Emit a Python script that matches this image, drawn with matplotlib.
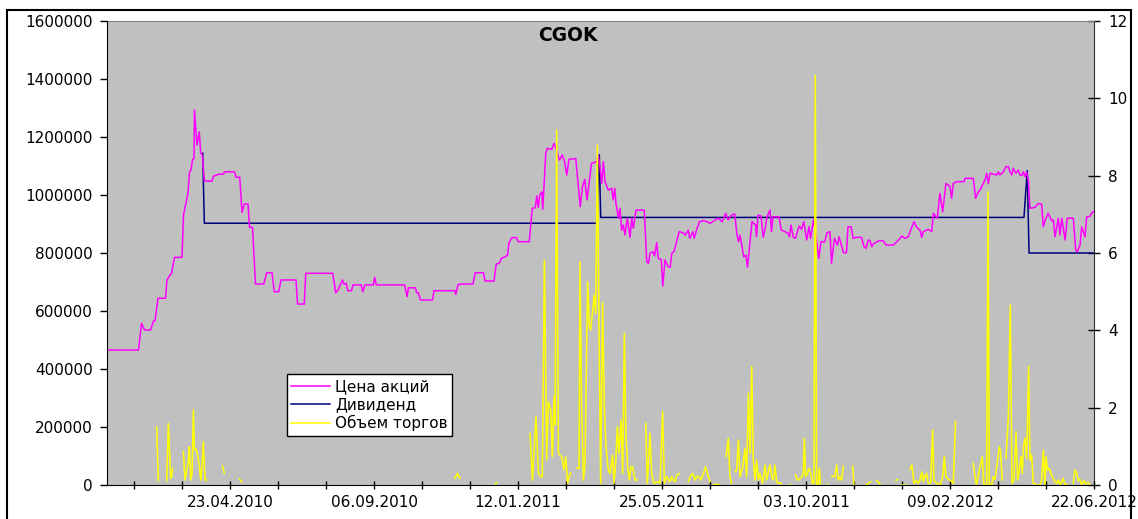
import numpy as np
import matplotlib
matplotlib.use("Agg")
import matplotlib.pyplot as plt
from matplotlib.patches import Rectangle

nan = np.nan

# trading-day index (0..658) -> share price, RUB
price_x = [0, 21, 23, 25, 29, 31, 32, 34, 39, 40, 42, 43, 45, 50, 51, 54, 55, 56, 57, 58,
           58.3, 60, 61.5, 62.5, 63.5, 65, 70, 71, 73, 75, 77.5, 78.5, 85, 86, 88.5, 90, 91.5, 94, 95, 97,
           99, 104.5, 106.5, 110, 111.5, 114.5, 116, 126, 127, 131.5, 132.5, 150.5, 152.5, 154, 157, 158,
           159.5, 160.5, 163, 164, 169.5, 170.5, 172, 177.5, 178.5, 179.5, 198.5, 200, 201, 205.5, 206.5,
           207.5, 209, 217, 218, 232, 232.5, 234, 235.5, 244, 245.5, 251, 252, 258, 259.5, 261.5, 263,
           265.5, 267, 268, 270, 273, 274, 281.5, 282.5, 283.5, 285.5, 286.5, 287.5, 288.5, 290, 290.5,
           292.5, 293.5, 296.5, 298, 299, 301.5, 302, 303.5, 305, 306.5, 308, 312.5, 313.5, 315.5, 317,
           318.5, 320, 321.5, 323, 326.5, 327.5, 328.7, 329.8, 330.9, 332, 334.2, 336.5, 337.5, 338.5,
           339.3, 341, 342, 343.1, 344.2, 345.3, 346.9, 348.7, 349.8, 350.9, 352.7, 358.2, 359.8, 361,
           362, 364, 365, 366.5, 367.5, 369.5, 370.5, 372, 374, 375.5, 376.5, 378, 380, 381.5, 384, 385.5,
           387.5, 388.5, 390.5, 391.5, 393, 395, 397.5, 400, 402, 405.5, 407.5, 410, 412.5, 414, 416.5,
           418.5, 420, 421, 422, 424.5, 426, 427, 430, 432.5, 433, 434, 436, 437.5, 439, 440, 442, 443,
           444, 448, 449.5, 452, 454, 455, 456, 457.5, 459, 460, 461.5, 463, 464.5, 466.5, 468, 469, 471,
           473, 474.5, 476, 478.5, 480, 482, 483, 485, 487, 488, 491, 493, 494, 496, 497.5, 499.5, 503,
           504.7, 506, 507.5, 508.7, 509.8, 511.3, 514.9, 517.5, 519.3, 524.2, 526.5, 528.2, 529.8, 532,
           534.2, 535.8, 538, 539.8, 542, 543.1, 544.2, 547.5, 549.8, 550.9, 552.7, 553.5, 555.3, 557.1,
           559.3, 562, 563.1, 564.2, 566.5, 571.5, 572, 577.5, 579.1, 580.9, 582, 585.3, 586.5, 587.5,
           588.7, 593.1, 594.2, 595.3, 597.5, 599.3, 600.9, 602, 603.1, 604.2, 606, 607.5, 608.7, 609.8,
           610.9, 612, 613.1, 614.2, 615.3, 618.7, 620.9, 623.1, 624.2, 625.3, 627.5, 629.8, 630.9, 632,
           634.2, 635.3, 636.5, 638.7, 640.2, 644.2, 645.8, 646.9, 648.7, 649.8, 652, 653.1, 654.9, 657.1, 658]
price_y = [465500, 465500, 557500, 534500, 534500, 565500, 565500, 644000, 644000, 707000, 724000, 730000,
           785000, 785000, 931000, 1006000, 1080000, 1086000, 1121000, 1126000,
           1293000, 1172000, 1218000, 1144000, 1138000, 1048000, 1048000, 1065000, 1069000, 1072000, 1072000,
           1080000, 1080000, 1061000, 1061000, 940000, 969000, 969000, 888500, 888500,
           693000, 693000, 732000, 732000, 666500, 666500, 707000, 707000, 624000, 624000, 730000, 730000,
           663000, 672000, 707000, 693000,
           695000, 670000, 670000, 690000, 690000, 666500, 690000, 690000, 716000, 690000, 690000, 649000,
           680000, 680000, 663000,
           663000, 638000, 638000, 670000, 670000, 657000, 690000, 693000, 693000, 732000, 732000, 703500,
           703500, 762000, 764500, 782000,
           787000, 793000, 835500, 853000, 853000, 839000, 839000, 896500, 954000, 956000, 996500, 957500,
           1000000, 1011000, 951000,
           1144000, 1161000, 1157500, 1178000, 1166500, 1121000, 1123000, 1138000, 1117000, 1069000, 1123000,
           1126000, 1069000, 960000, 1029000,
           1054000, 983000, 1046000, 1109000, 1115000, 1138000, 1092000, 1040000, 1115000, 1046000, 1017000,
           1023000, 983000, 1023000,
           971000, 920000, 954000, 879000, 896500, 862000, 920000, 854000, 920000, 885000, 948000, 948000,
           770000, 764500,
           799000, 804500, 790000, 835500, 781500, 778000, 686000, 776000, 753000, 750500, 799000, 804500,
           845000, 873500, 870000, 862000,
           879000, 850500, 873500, 850500, 879000, 908000, 911500, 908000, 902000, 914000, 920000, 908000,
           937000, 914000, 931000,
           934500, 862000, 839000, 862000, 787000, 793000, 750500, 908000, 896500, 856000, 931000, 927500,
           854000, 890500, 925000, 948000, 873500,
           925000, 925000, 879000, 873500, 868000, 856000, 896500, 854000, 850500, 870000, 893000, 881500,
           908000, 845000, 890500, 850500, 914000,
           845000, 781500, 839000, 839000, 870000, 873500, 764500, 850500, 827500, 856000, 801000, 801000,
           890500, 890500, 850500, 854000, 854000,
           821500, 816000, 845000, 842500, 821500, 833000, 842500, 842500, 827500, 827500, 839000, 847500,
           858500, 850500,
           856000, 879000, 908000, 888500, 879000, 854000, 873500, 881500, 873500, 937000, 925000, 920000,
           1006000, 942000,
           1040000, 1029000, 988500, 1040000, 1046000, 1046000, 1057500, 1057500, 988500, 1011000, 1017000,
           1051500, 1075000, 1040000,
           1075000, 1069000, 1080000, 1069000, 1080000, 1097500, 1097500, 1080000, 1069000, 1092000, 1075000,
           1086000, 1069000, 1066500,
           1080000, 1063000, 1080000, 1051500, 954000, 957500, 971000, 967500, 890500, 911500, 937000,
           910500, 914000, 856000,
           920000, 862000, 920000, 845000, 920000, 920000, 810000, 804500, 827500, 890500, 856000, 925000,
           925000, 942000, 942000]

# dividend (right axis)
div_x = [63.8, 64.9, 326.5, 328.2, 329.1, 611.3, 613.5, 614.7, 658]
div_y = [8.58, 6.77, 6.77, 8.54, 6.92, 6.92, 8.13, 6.0, 6.0]

# trading volume, gaps = no trades
vol_x = [33.1, 34.2, nan, 39.8, 40.9, 42.5, 43.1, 43.8, nan,
         50.9, 52, 54.3, 54.9, 55.8, 56.7, 57.6, 58.3, 59.1, 60.2, 61.6, 62.5, 63.6, 64.2, 65.4, 66.5, nan,
         77.1, 78.2, nan, 88.3, 89.6, nan, 232, 233.6, 235.3, nan, 258.7, 259.8, nan,
         282, 283.6, 286, 287.6, 289.1, 290.2, 291.6, 292.4, 293.1, 294.2, 295.8, 296.9, 298, 298.7, 299.8,
         300.9, 303.1, 304.7, 305.8, 307.1, 308.7, 309.3, nan,
         313.1, 314.7, 315.3, 316.4, 317.6, 318.7, 320.4, 321.6, 322.4, 323.6, 324.7, 325.8, 326.9, 328.2,
         329.1, 330.4, 331.6, 332.7, 334.2, 335.3, 337.1, 338, 339.1, 340.2, 341.3, 342.7, 343.8, 344.9,
         346, 347.1, 348.2, 349.3, 350.4, 352, 353.6, nan,
         359.1, 360.2, 362, 363.1, 364.7, 367.6, 368.7, 370.4, 371.6, 373.1, 375.3, 376.4, 377.6, 378.7,
         379.8, 381.6, nan,
         387.6, 388.7, 390.4, 392, 393.1, 394.7, 396, 397.6, 399.1, 400.9, 402, nan, 404.2, 407.6, nan,
         412.7, 414.2, 415.3, 416.4, nan,
         418.7, 419.8, 420.9, 422, 423.8, 425.3, 426.4, 427.6, 428.7, 429.8, 430.9, 432, 433.1, 434.2,
         435.3, 437.1, 438.6, 439.7, 440.9, 442, 443.1, 444.2, 445.3, 446.4, 447.5, 448.6, 449.7, nan,
         454.9, 456.4, nan,
         459.1, 460.2, 461.5, 463.1, 464.2, 464.9, 465.7, 466.9, 468, 469.1, 470.2, 471.3, 472.2, 473.1,
         474.2, 474.9, 475.7, nan, 479.7, 480.5, nan,
         483.1, 484.2, 485.3, 486.4, 487.5, 488.6, 489.7, 490.9, nan, 497.1, 498, nan,
         506, 507.5, 509.1, nan, 513.1, 515.3, nan, 526, 526.9, nan, 529.7, 533.1, nan,
         535.3, 536.6, 538, 539.3, 540.9, 542, 543.3, 544.2, 545.3, 546.4, 547.5, 549.1, 550.4, 551.3,
         553.1, 555.3, 557.1, 558.2, 559.3, 560.9, 562.4, 564.2, 565.7, nan,
         577.5, 578.6, 579.7, 582, 583.5, 584.6, 586.4, 587.3, 588.2, 589.7, 590.9, 592, 593.5, 594.9,
         595.7, 596.9, nan,
         599.3, 600.9, 602.2, 603.3, 604.6, 606, 607.1, 608.2, 609.3, 610.2, 610.9, 612, 613.1, 614.4,
         615.3, 616.4, 617.5, 618.6, 619.7, 622, 623.1, 624.2, 625.3, 626, 627.1, 628.2, 629.7, 630.9,
         632, 633.1, 634.2, 635.3, 636.4, 637.5, 638.6, 639.7, nan,
         644.2, 645.3, 646.4, 647.5, 648.6, 649.7, 651.3, 652.6, 654.2, 655.3]
vol_y = [201000, 15000, nan, 15000, 212500, 23000, 28500, 57500, nan,
         115000, 17000, 86000, 132000, 17000, 40000, 258500, 120500, 126000, 109000, 63000, 17000, 86000,
         149000, 17000, 17000, nan,
         65500, 40000, nan, 20500, 11500, nan, 23000, 40000, 23000, nan, 3500, 8000, nan,
         178000, 17000, 235500, 40000, 28500, 28500, 775500, 431000, 86000, 287000, 258500, 97500, 304500,
         207000, 1224000,
         109000, 97500, 51500, 97500, 5500, 40000, 40000, nan,
         57500, 57500, 770000, 281500, 17000, 74500, 701000, 546000, 534500, 592000, 655000, 592000,
         1172000, 454000,
         5500, 628500, 258500, 132000, 51500, 40000, 103500, 5500, 74500, 201000, 109000, 224000, 40000,
         523000,
         166500, 63000, 17000, 63000, 63000, 17000, 17000, nan,
         212500, 5500, 178000, 40000, 5500, 11500, 5500, 253000, 5500, 28500, 11500, 28500, 17000, 11500,
         34500, 40000, nan,
         11500, 28500, 40000, 17000, 28500, 28500, 17000, 40000, 63000, 28500, 11500, nan, 0, 3500, nan,
         97500, 161000, 28500, 5500, nan,
         46000, 51500, 155000, 28500, 63000, 126500, 28500, 316000, 109000, 408000, 86000, 17000, 86000,
         17000,
         40000, 5500, 69000, 17000, 46000, 69000, 28500, 17000, 69000, 11500, 5500, 8000, 3500, nan,
         0, 0, nan,
         34500, 17000, 19500, 28500, 40000, 161000, 28500, 40000, 57500, 40000, 5500, 5500, 1413000, 0,
         5500, 57500, 0, nan, 0, 0, nan,
         28500, 31000, 28500, 69000, 17000, 28500, 17000, 65500, nan, 65500, 0, nan,
         0, 5500, 11500, nan, 15000, 3500, nan, 15000, 19500, nan, 0, 0, nan,
         54000, 69000, 5500, 15000, 5500, 17000, 46000, 11500, 31000, 40000, 5500, 5500, 189500, 15000,
         5500, 0, 28500, 97500, 28500, 19500, 15000, 5500, 218500, nan,
         74500, 28500, 0, 63000, 97500, 0, 0, 1011000, 0, 0, 28500, 19500, 74500, 132000,
         115000, 17000, nan,
         92000, 235500, 620500, 5500, 17000, 184000, 17000, 51500, 97500, 40000, 132000, 161000, 92000,
         410000,
         86000, 103500, 5500, 3500, 0, 0, 17000, 120500, 0, 97500, 51500, 57500, 34500, 23000,
         11500, 5500, 17000, 0, 11500, 23000, 0, 3500, nan,
         5500, 51500, 40000, 15000, 19500, 0, 15000, 3500, 8000, 0]

tick_pos = [18 + 32 * k for k in range(21)]
date_labels = {82: "23.04.2010", 178: "06.09.2010", 274: "12.01.2011", 370: "25.05.2011",
               466: "03.10.2011", 562: "09.02.2012", 658: "22.06.2012"}

plt.rcParams['font.family'] = ['DejaVu Sans']
plt.rcParams['font.size'] = 11

fig = plt.figure(figsize=(11.38, 5.19), dpi=100)
ax = fig.add_axes([107 / 1138, 1 - 485 / 519, 987 / 1138, 464 / 519])
ax2 = ax.twinx()

# price + volume on the top axes, dividend underneath on the right axis
ax.set_zorder(ax2.get_zorder() + 1)
ax.patch.set_visible(False)
ax2.patch.set_visible(True)
ax2.patch.set_facecolor('#c0c0c0')

l1, = ax.plot(price_x, price_y, color='#ff00ff', lw=1.1)
l2, = ax2.plot(div_x, div_y, color='#000080', lw=1.1)
l3, = ax.plot(vol_x, vol_y, color='#ffff00', lw=1.1)

ax.set_xlim(0, 658)
ax.set_ylim(0, 1600000)
ax2.set_ylim(0, 12)

yt = list(range(0, 1600001, 200000))
ax.set_yticks(yt)
ax.set_yticklabels([str(v) for v in yt])
ax2.set_yticks(range(0, 13, 2))
ax.set_xticks(tick_pos)
ax.set_xticklabels([date_labels.get(t, "") for t in tick_pos])

ax.tick_params(axis='y', direction='out', length=5, width=1, pad=5)
ax.tick_params(axis='x', direction='inout', length=6, width=1, pad=4)
ax2.tick_params(axis='y', direction='inout', length=8.5, width=1, pad=6)

for s in ['top', 'right']:
    ax.spines[s].set_visible(False)
for s in ['top', 'left', 'bottom']:
    ax2.spines[s].set_visible(False)
ax2.spines['top'].set_visible(True)
ax2.spines['top'].set_color('#808080')
ax2.spines['right'].set_color('#303030')

ax.text(0.467, 0.969, "CGOK", transform=ax.transAxes, ha='center', va='center',
        fontsize=13.5, fontweight='bold')

leg = ax.legend([l1, l2, l3], ["Цена акций", "Дивиденд", "Объем торгов"],
                loc='lower left', bbox_to_anchor=(0.182, 0.106), borderaxespad=0,
                fancybox=False, framealpha=1, edgecolor='black', facecolor='white',
                borderpad=0.3, labelspacing=0.2, handlelength=2.55, handletextpad=0.3)
leg.get_frame().set_linewidth(1.0)

# outer chart border
fig.add_artist(Rectangle((7 / 1138, -0.02), 1124 / 1138, 1 - 10 / 519 + 0.02,
                         transform=fig.transFigure, fill=False, edgecolor='black', lw=1.5))

fig.savefig("out.png", dpi=100)
